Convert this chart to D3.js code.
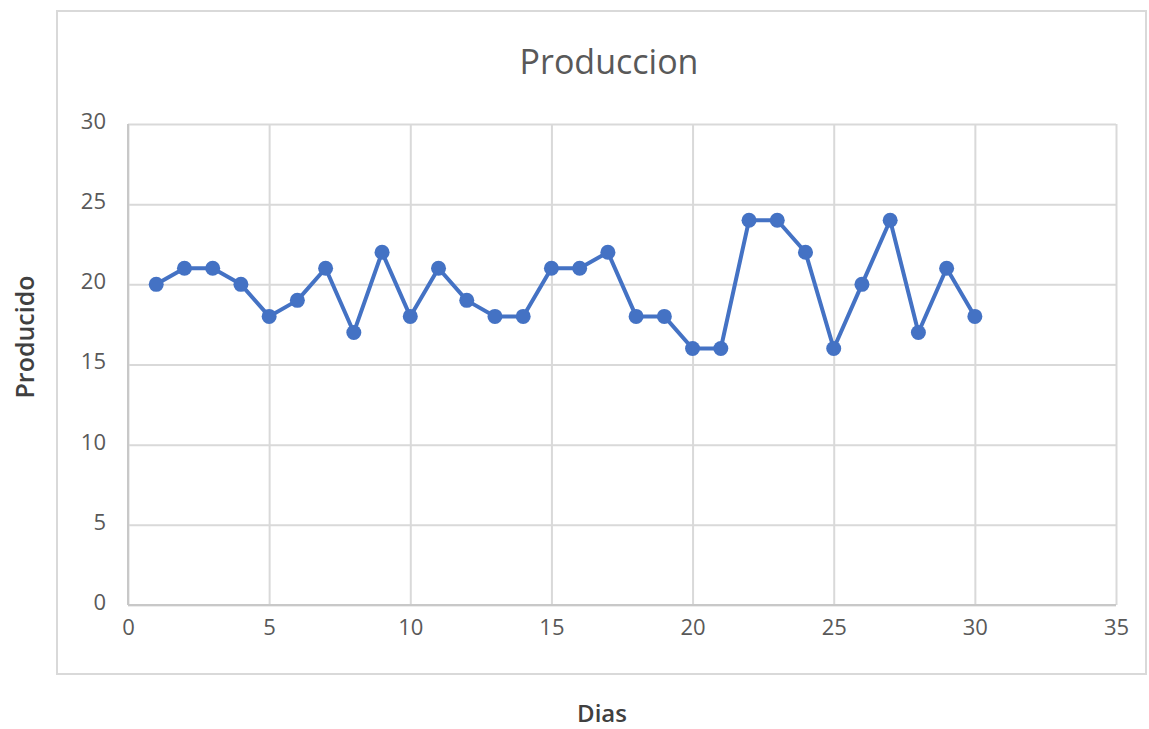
<!DOCTYPE html>
<html>
<head>
<meta charset="utf-8">
<script src="https://cdn.jsdelivr.net/npm/d3@7"></script>
<style>
  html, body { margin: 0; padding: 0; background: #fff; }
  svg { display: block; }
  text { font-family: "Open Sans", "Noto Sans", sans-serif; }
</style>
</head>
<body>
<svg id="chart" width="1149" height="729"></svg>
<script>
const dias = [1,2,3,4,5,6,7,8,9,10,11,12,13,14,15,16,17,18,19,20,21,22,23,24,25,26,27,28,29,30];
const producido = [20,21,21,20,18,19,21,17,22,18,21,19,18,18,21,21,22,18,18,16,16,24,24,22,16,20,24,17,21,18];
const xTicks = [0,5,10,15,20,25,30,35];
const yTicks = [0,5,10,15,20,25,30];
const title = "Produccion";
const xTitle = "Dias";
const yTitle = "Producido";

const svg = d3.select("#chart");
const plot = {left: 128, top: 124, right: 1116, bottom: 605};

// outer chart border
svg.append("rect")
  .attr("x", 57).attr("y", 11)
  .attr("width", 1146 - 57).attr("height", 674 - 11)
  .attr("fill", "#fff").attr("stroke", "#d9d9d9").attr("stroke-width", 2);

const x = d3.scaleLinear().domain([0, 35]).range([plot.left, plot.right]);
const y = d3.scaleLinear().domain([0, 30]).range([plot.bottom, plot.top]);

// gridlines
const gx = svg.append("g").attr("transform", `translate(0,${plot.bottom})`)
  .call(d3.axisBottom(x).tickValues(xTicks).tickSize(-(plot.bottom - plot.top)).tickFormat(""));
gx.select(".domain").remove();
gx.selectAll("line").attr("stroke", "#d9d9d9").attr("stroke-width", 2);

const gy = svg.append("g").attr("transform", `translate(${plot.left},0)`)
  .call(d3.axisLeft(y).tickValues(yTicks).tickSize(-(plot.right - plot.left)).tickFormat(""));
gy.select(".domain").remove();
gy.selectAll("line").attr("stroke", "#d9d9d9").attr("stroke-width", 2);

// axis lines
svg.append("line").attr("x1", plot.left).attr("x2", plot.right)
  .attr("y1", plot.bottom).attr("y2", plot.bottom)
  .attr("stroke", "#c8c8c8").attr("stroke-width", 2);
svg.append("line").attr("x1", plot.left).attr("x2", plot.left)
  .attr("y1", plot.top).attr("y2", plot.bottom)
  .attr("stroke", "#c8c8c8").attr("stroke-width", 2);

// tick labels
const xl = svg.append("g").attr("transform", `translate(0,${plot.bottom + 10})`)
  .call(d3.axisBottom(x).tickValues(xTicks).tickSize(0).tickPadding(0));
xl.select(".domain").remove();
xl.selectAll("text").attr("font-size", 22).attr("fill", "#595959")
  .attr("font-family", "'Open Sans', sans-serif").attr("dy", "0.71em").attr("y", 4);

const yl = svg.append("g").attr("transform", `translate(${plot.left - 22},0)`)
  .call(d3.axisLeft(y).tickValues(yTicks).tickSize(0).tickPadding(0));
yl.select(".domain").remove();
yl.selectAll("text").attr("font-size", 22).attr("fill", "#595959")
  .attr("font-family", "'Open Sans', sans-serif").attr("dy", "0.2em");

// line and markers
const pts = dias.map((d, i) => ({x: d, y: producido[i]}));
svg.append("path").datum(pts)
  .attr("fill", "none").attr("stroke", "#4472c4").attr("stroke-width", 4)
  .attr("stroke-linejoin", "round")
  .attr("d", d3.line().x(d => x(d.x)).y(d => y(d.y)));
svg.append("g").selectAll("circle").data(pts).join("circle")
  .attr("cx", d => x(d.x)).attr("cy", d => y(d.y)).attr("r", 7.5)
  .attr("fill", "#4472c4");

// titles
svg.append("text").attr("x", 609).attr("y", 74).attr("text-anchor", "middle")
  .attr("font-size", 34).attr("fill", "#595959").text(title);
svg.append("text").attr("x", 602).attr("y", 722).attr("text-anchor", "middle")
  .attr("font-size", 24).attr("font-weight", 600).attr("fill", "#404040").text(xTitle);
svg.append("text").attr("transform", "translate(34,337) rotate(-90)").attr("text-anchor", "middle")
  .attr("font-size", 25).attr("font-weight", 600).attr("fill", "#404040").text(yTitle);
</script>
</body>
</html>
